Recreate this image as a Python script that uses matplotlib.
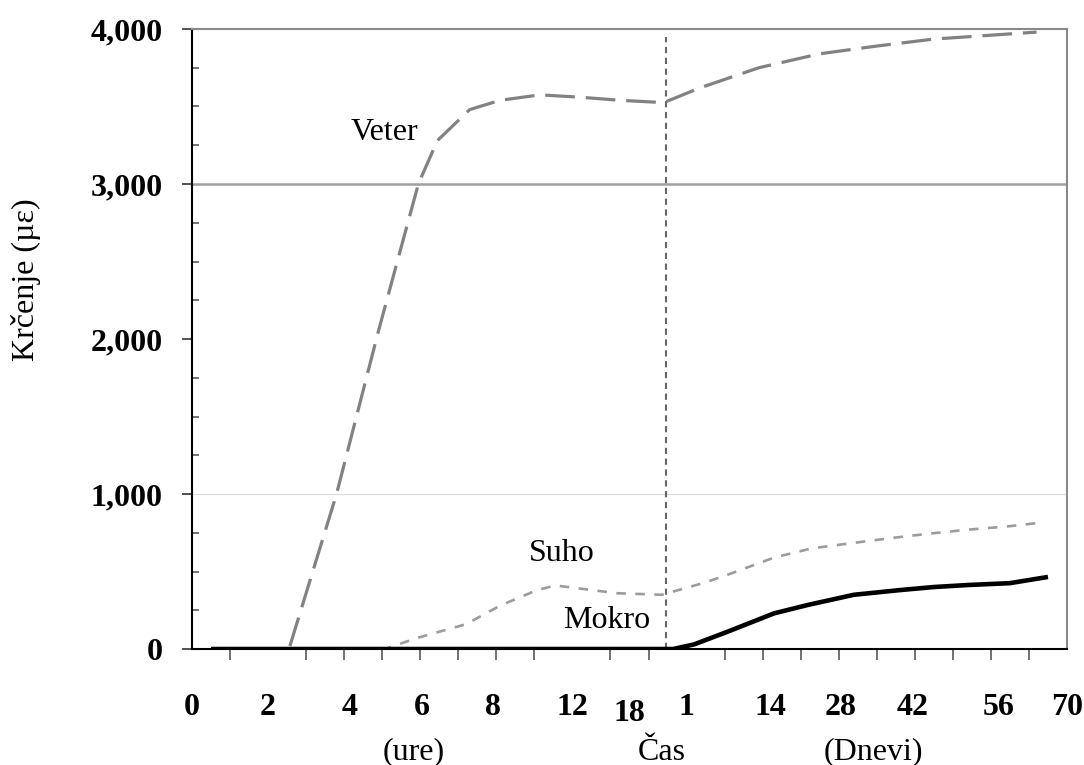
import matplotlib
matplotlib.use("Agg")
import matplotlib.pyplot as plt
from matplotlib.ticker import FuncFormatter, MultipleLocator
from matplotlib.transforms import ScaledTranslation, blended_transform_factory

plt.rcParams['font.family'] = ['Liberation Serif', 'DejaVu Serif']

# axis positions: one unit per minor tick, hours first then days
tick_pos = [0, 2, 4.15, 6.05, 7.9, 10, 11.5, 13, 15.2, 17.05, 18.95, 21.2, 23]
tick_labels = ['0', '2', '4', '6', '8', '12', '18', '1', '14', '28', '42', '56', '70']
split_pos = 12.45  # hours -> days

# strain curves (µε)
veter_x = [0.5, 2.55, 3.8, 4.9, 5.95, 6.45, 7.3, 8.1, 9.15, 10.2, 11.25, 12.4,
           13.35, 14.9, 16.5, 18.0, 19.5, 21.0, 22.2]
veter_y = [0, 0, 1000, 2050, 3000, 3280, 3480, 3540, 3575, 3560, 3540, 3525,
           3620, 3750, 3840, 3890, 3935, 3960, 3980]

suho_x = [0.5, 5.07, 5.9, 7.2, 8.1, 9.07, 9.55, 10.2, 11.17, 12.35, 13.5, 14.2,
          15.3, 16.3, 17.4, 18.35, 19.4, 20.4, 21.4, 22.3]
suho_y = [0, 0, 70, 160, 280, 380, 410, 390, 360, 350, 430, 490,
          590, 650, 685, 715, 745, 770, 790, 815]

mokro_x = [0.5, 12.65, 13.2, 14.06, 15.3, 16.2, 17.4, 18.6, 19.5, 20.4, 21.5, 22.5]
mokro_y = [0, 0, 30, 110, 230, 285, 350, 380, 400, 413, 425, 465]

fig = plt.figure(figsize=(10.84, 7.65), dpi=100)
ax = fig.add_axes([0.1771, 0.1516, 0.8072, 0.8105])

ax.axhline(1000, color='#dadada', lw=0.8, zorder=1)
ax.axhline(3000, color='#a0a0a0', lw=1.8, zorder=1)
ax.plot([split_pos, split_pos], [0, 3950], color='#666666', lw=1.5,
        dashes=(3, 2.2), zorder=2)

ax.plot(veter_x, veter_y, color='#828282', lw=2.3, dashes=(9.3, 3.4),
        solid_joinstyle='round', zorder=3)
ax.plot(suho_x, suho_y, color='#9c9c9c', lw=1.9, dashes=(3.6, 3.6), zorder=3)
ax.plot(mokro_x, mokro_y, color='black', lw=3.3, solid_capstyle='butt',
        solid_joinstyle='round', zorder=4)

ax.set_xlim(0, 23)
ax.set_ylim(0, 4000)

for side in ['left', 'bottom']:
    ax.spines[side].set_color('black')
    ax.spines[side].set_linewidth(1.5)
for side in ['top', 'right']:
    ax.spines[side].set_color('#8a8a8a')
    ax.spines[side].set_linewidth(1.5)

# y axis: major ticks outward, minor ticks inward
ax.yaxis.set_major_locator(MultipleLocator(1000))
ax.yaxis.set_minor_locator(MultipleLocator(250))
ax.yaxis.set_major_formatter(FuncFormatter(lambda v, p: f'{int(v):,}'))
ax.tick_params(axis='y', which='major', direction='out', length=7, width=1.3,
               color='#444444', pad=14, labelsize=23)
ax.tick_params(axis='y', which='minor', direction='in', length=5, width=1.3,
               color='#666666')

# x axis: tick marks on every unit, labels placed separately
ax.set_xticks(range(0, 24), minor=True)
ax.set_xticks(tick_pos, tick_labels)
ax.tick_params(axis='x', which='minor', direction='out', length=8, width=1.3,
               color='#666666')
ax.tick_params(axis='x', which='major', length=0, pad=32, labelsize=23)

for lab in ax.get_yticklabels() + ax.get_xticklabels():
    lab.set_fontweight('bold')
for lab in ax.get_xticklabels():
    if lab.get_text() == '18':
        lab.set_transform(lab.get_transform() +
                          ScaledTranslation(0, -4 / 72, fig.dpi_scale_trans))

ax.text(5.05, 3335, 'Veter', fontsize=23, ha='center', va='center')
ax.text(9.72, 619, 'Suho', fontsize=23, ha='center', va='center')
ax.text(10.9, 181, 'Mokro', fontsize=23, ha='center', va='center')

bt = blended_transform_factory(ax.transData, fig.transFigure)
for xpos, txt in [(5.84, '(ure)'), (12.35, 'Čas'), (17.9, '(Dnevi)')]:
    ax.text(xpos, 1 - 752 / 765, txt, fontsize=23, ha='center', va='center',
            transform=bt)

fig.text(26 / 1084, 1 - 280 / 765, 'Krčenje (µε)', fontsize=23,
         rotation=90, ha='center', va='center')

fig.savefig('out.png', dpi=100)
